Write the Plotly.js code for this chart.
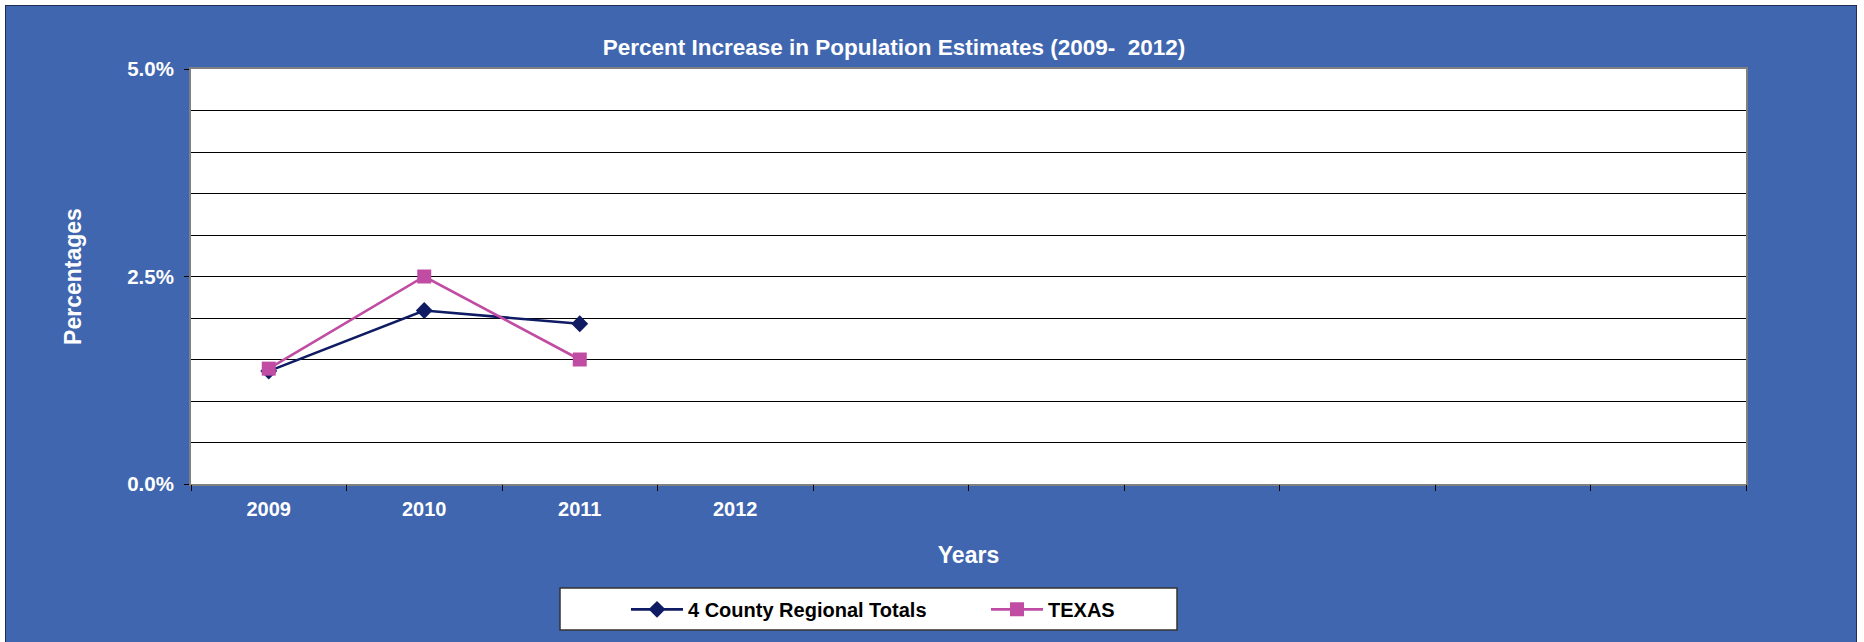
<!DOCTYPE html>
<html>
<head>
<meta charset="utf-8">
<script src="https://cdn.plot.ly/plotly-3.0.1.min.js"></script>
<style>
  html, body { margin: 0; padding: 0; background: #ffffff; width: 1864px; height: 642px; overflow: hidden; }
  #frame { position: absolute; left: 5px; top: 5px; width: 1852px; height: 642px; border: 1px solid #1f2d55; box-sizing: border-box; background: #4066b0; }
  #chart { position: absolute; left: 0; top: 0; }
</style>
</head>
<body>
<div id="frame"><div id="chart"></div></div>
<script>
// ---- data ----
const years = ['2009', '2010', '2011', '2012'];
const slotCount = 10;
const countyLabel = '4 County Regional Totals';
const countyValues = [1.36, 2.09, 1.93];   // percent
const texasLabel = 'TEXAS';
const texasValues = [1.39, 2.50, 1.50];    // percent
const yTickValues = [0, 2.5, 5.0];
const yTickLabels = ['0.0%', '2.5%', '5.0%'];

// ---- derived positions through the axis scale ----
const pos = years.map((_, i) => i + 1);
const boundaries = Array.from({length: slotCount + 1}, (_, i) => i + 0.5);
const minorStep = 0.5;

const FONT = 'Liberation Sans, Arial, sans-serif';
const W = 1850, H = 640;

const traces = [
  {
    x: pos.slice(0, countyValues.length), y: countyValues, name: countyLabel,
    type: 'scatter', mode: 'lines+markers',
    line: {color: '#0f1b63', width: 2.6},
    marker: {symbol: 'diamond', size: 13, color: '#0f1b63'}
  },
  {
    x: pos.slice(0, texasValues.length), y: texasValues, name: texasLabel,
    type: 'scatter', mode: 'lines+markers',
    line: {color: '#c04ca4', width: 2.6},
    marker: {symbol: 'square', size: 14, color: '#c04ca4'}
  },
  { x: [], y: [], xaxis: 'x2', yaxis: 'y', showlegend: false, hoverinfo: 'skip', type: 'scatter' }
];

const layout = {
  width: W, height: H,
  margin: {l: 185, r: 110, t: 63, b: 162, pad: 0, autoexpand: false},
  paper_bgcolor: 'rgba(0,0,0,0)',
  plot_bgcolor: '#ffffff',
  showlegend: true,
  title: {
    text: 'Percent Increase in Population Estimates (2009-  2012)',
    font: {family: FONT, size: 22.5, color: '#ffffff', weight: 'bold'},
    x: 0.48, xref: 'container', xanchor: 'center',
    y: 1 - 41.5 / H, yref: 'container', yanchor: 'middle'
  },
  xaxis: {
    range: [0.5, slotCount + 0.5],
    tickvals: pos, ticktext: years,
    ticks: '', showgrid: false, zeroline: false,
    showline: true, linecolor: '#808080', linewidth: 2, mirror: true,
    tickfont: {family: FONT, size: 20, color: '#ffffff', weight: 'bold'},
    ticklabelstandoff: 6,
    title: {text: 'Years', font: {family: FONT, size: 23, color: '#ffffff', weight: 'bold'}, standoff: 28},
    fixedrange: true
  },
  xaxis2: {
    overlaying: 'x', anchor: 'y', side: 'bottom',
    range: [0.5, slotCount + 0.5],
    tickvals: boundaries, showticklabels: false,
    ticks: 'outside', ticklen: 6, tickwidth: 1, tickcolor: '#000000',
    showgrid: false, zeroline: false, showline: false, fixedrange: true
  },
  yaxis: {
    range: [0, 5.0],
    tickvals: yTickValues, ticktext: yTickLabels,
    ticks: 'outside', ticklen: 5, tickwidth: 1, tickcolor: '#000000',
    showgrid: true, gridcolor: '#000000', gridwidth: 1,
    minor: {dtick: minorStep, showgrid: true, gridcolor: '#000000', gridwidth: 1, ticks: ''},
    zeroline: false,
    showline: true, linecolor: '#808080', linewidth: 2, mirror: true,
    tickfont: {family: FONT, size: 20.5, color: '#ffffff', weight: 'bold'},
    ticklabelstandoff: 6,
    title: {text: 'Percentages', font: {family: FONT, size: 23, color: '#ffffff', weight: 'bold'}, standoff: 39},
    fixedrange: true
  },
  legend: {
    orientation: 'h',
    x: (626 - 191) / 1555, xanchor: 'left',
    y: -0.255, yanchor: 'top',
    bgcolor: 'rgba(0,0,0,0)', borderwidth: 0,
    font: {family: FONT, size: 20, color: '#000000', weight: 'bold'},
    entrywidth: 293, entrywidthmode: 'pixels',
    itemwidth: 52, tracegroupgap: 0
  },
  shapes: [{
    type: 'rect', xref: 'paper', yref: 'paper', layer: 'below',
    x0: (560 - 191) / 1555, x1: (1177 - 191) / 1555,
    y0: (484 - 588) / 415, y1: (484 - 630) / 415,
    fillcolor: '#ffffff', line: {color: '#333333', width: 1.5}
  }]
};

Plotly.newPlot('chart', traces, layout, {displayModeBar: false, staticPlot: true});
</script>
</body>
</html>
